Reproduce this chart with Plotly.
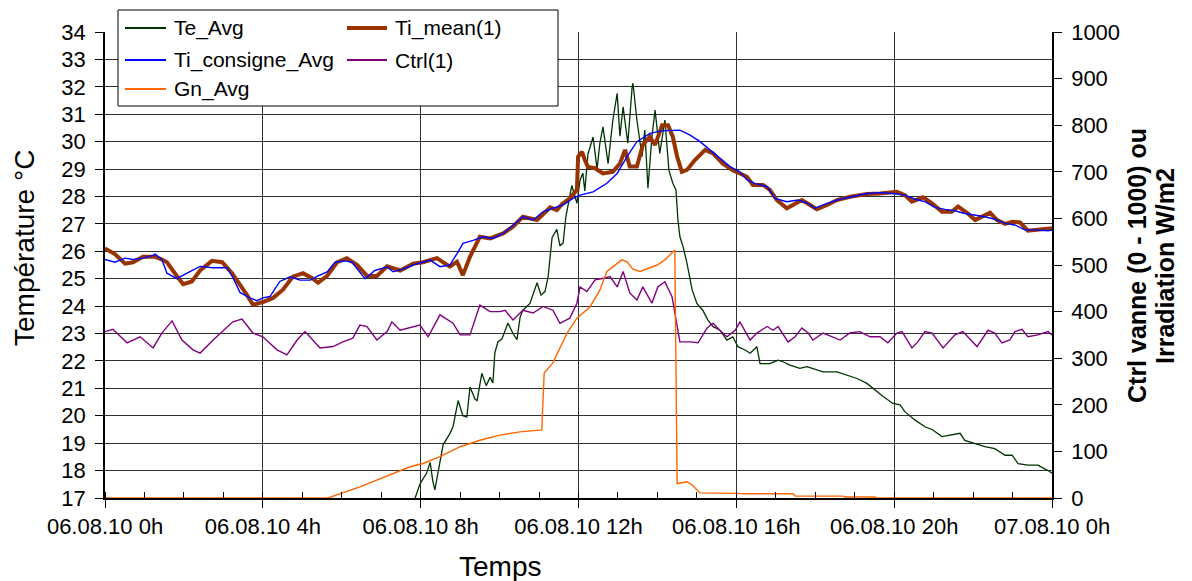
import plotly.graph_objects as go

# ---------------- data ----------------
TICK_HOURS = [0, 4, 8, 12, 16, 20, 24]
TICK_LABELS = ["06.08.10 0h", "06.08.10 4h", "06.08.10 8h", "06.08.10 12h",
               "06.08.10 16h", "06.08.10 20h", "07.08.10 0h"]

# Outdoor temperature (°C)
te_hours = [7.86, 7.98, 8.06, 8.15, 8.24, 8.31, 8.36, 8.44, 8.57, 8.74, 8.82, 8.95, 9.07, 9.17,
            9.25, 9.38, 9.43, 9.55, 9.66, 9.76, 9.83, 9.88, 9.96, 10.06, 10.21, 10.34, 10.44,
            10.52, 10.59, 10.77, 10.95, 11.05, 11.15, 11.23, 11.33, 11.45, 11.53, 11.61, 11.68,
            11.83, 11.96, 12.04, 12.11, 12.16, 12.24, 12.37, 12.47, 12.54, 12.62, 12.75, 12.87,
            12.98, 13.05, 13.13, 13.25, 13.36, 13.38, 13.48, 13.61, 13.68, 13.76, 13.86, 13.94,
            14.06, 14.19, 14.29, 14.39, 14.47, 14.52, 14.57, 14.65, 14.75, 14.88, 15.00, 15.15,
            15.28, 15.41, 15.58, 15.76, 15.91, 16.04, 16.22, 16.35, 16.52, 16.60, 16.85, 17.06,
            17.18, 17.36, 17.61, 17.79, 18.04, 18.20, 18.55, 18.80, 19.06, 19.31, 19.46, 19.72,
            19.97, 20.15, 20.27, 20.53, 20.78, 20.98, 21.21, 21.46, 21.67, 21.79, 22.05, 22.30,
            22.55, 22.81, 22.99, 23.14, 23.39, 23.64, 23.90, 24.00]
te_avg = [17.0, 17.5, 17.7, 17.9, 18.3, 17.6, 17.3, 17.9, 18.95, 19.35, 19.6, 20.55, 20.0, 19.95,
          21.05, 20.6, 20.55, 21.55, 21.1, 21.4, 21.2, 22.3, 22.7, 22.8, 23.38, 23.0, 22.78,
          23.6, 23.85, 24.1, 24.85, 24.4, 24.53, 25.07, 26.5, 26.8, 26.2, 26.3, 27.26,
          28.4, 27.75, 28.6, 28.85, 28.2, 29.55, 30.17, 29.0, 29.93, 30.54, 29.2, 30.78,
          31.76, 30.2, 31.27, 29.94, 32.0, 32.13, 30.79, 29.45, 30.42, 28.3, 30.18, 31.15,
          29.57, 30.79, 28.96, 28.48, 28.24, 27.14, 26.53, 26.17, 25.56, 24.59, 24.1, 23.85,
          23.49, 23.25, 23.13, 22.76, 22.88, 22.52, 22.4, 22.28, 22.52, 21.9, 21.9, 22.03,
          21.97, 21.85, 21.73, 21.79, 21.67, 21.6, 21.6, 21.48, 21.36, 21.18, 21.0, 20.7,
          20.45, 20.4, 20.15, 19.84, 19.6, 19.48, 19.24, 19.3, 19.36, 19.1, 18.99, 18.87,
          18.8, 18.56, 18.56, 18.25, 18.2, 18.2, 18.0, 17.9]

# Indoor mean temperature (°C)
ti_mean_hours = [0, 0.25, 0.51, 0.71, 0.96, 1.27, 1.44, 1.57, 1.82, 1.98, 2.20, 2.41, 2.71, 2.97,
                 3.22, 3.42, 3.60, 3.75, 4.00, 4.26, 4.51, 4.76, 5.02, 5.27, 5.40, 5.63, 5.88,
                 6.13, 6.39, 6.64, 6.89, 7.15, 7.48, 7.81, 8.06, 8.41, 8.74, 8.92, 9.00, 9.07,
                 9.25, 9.50, 9.76, 10.09, 10.34, 10.59, 10.95, 11.28, 11.45, 11.58, 11.78, 11.96,
                 11.99, 12.09, 12.16, 12.24, 12.42, 12.62, 12.87, 13.05, 13.18, 13.30, 13.48,
                 13.63, 13.81, 13.94, 14.12, 14.27, 14.39, 14.50, 14.62, 14.75, 14.95, 15.21,
                 15.41, 15.66, 15.91, 16.17, 16.27, 16.42, 16.68, 16.85, 17.03, 17.28, 17.49,
                 17.66, 17.87, 18.04, 18.30, 18.55, 18.88, 19.31, 19.64, 20.07, 20.27, 20.45,
                 20.73, 20.96, 21.21, 21.46, 21.62, 21.87, 22.05, 22.23, 22.43, 22.61, 22.81,
                 22.99, 23.19, 23.39, 23.64, 23.95, 24.00]
ti_mean = [26.1, 25.9, 25.55, 25.6, 25.8, 25.8, 25.7, 25.6, 25.1, 24.8, 24.9, 25.3, 25.65, 25.6,
           25.2, 24.8, 24.4, 24.05, 24.15, 24.3, 24.6, 25.07, 25.2, 25.0, 24.85, 25.1, 25.6,
           25.75, 25.5, 25.1, 25.1, 25.45, 25.3, 25.55, 25.6, 25.75, 25.44, 25.62, 25.32, 25.13,
           25.8, 26.53, 26.47, 26.65, 26.9, 27.26, 27.14, 27.6, 27.5, 27.72, 27.93, 28.24,
           29.45, 29.63, 29.33, 29.08, 29.03, 28.84, 28.9, 29.2, 29.7, 29.09, 29.09,
           29.88, 30.18, 29.88, 30.6, 30.6, 30.18, 29.45, 28.9, 28.97, 29.33, 29.7,
           29.57, 29.2, 28.96, 28.8, 28.72, 28.42, 28.42, 28.24, 27.87, 27.57, 27.75,
           27.87, 27.69, 27.53, 27.69, 27.87, 27.99, 28.09, 28.11, 28.17, 28.05, 27.81,
           27.97, 27.75, 27.44, 27.44, 27.63, 27.38, 27.14, 27.26, 27.41, 27.14, 27.0,
           27.08, 27.05, 26.75, 26.8, 26.84, 26.84]

# Indoor set-point temperature (°C)
ti_cons_hours = [0, 0.25, 0.51, 0.71, 0.96, 1.22, 1.27, 1.44, 1.57, 1.82, 2.08, 2.41, 2.74, 3.09,
                 3.24, 3.42, 3.67, 3.85, 4.00, 4.18, 4.43, 4.69, 4.94, 5.20, 5.40, 5.63, 5.83,
                 6.08, 6.26, 6.39, 6.59, 6.84, 7.15, 7.30, 7.55, 7.81, 8.06, 8.24, 8.49, 8.74,
                 8.95, 9.07, 9.33, 9.58, 9.83, 10.09, 10.34, 10.59, 10.85, 11.10, 11.35, 11.61,
                 11.86, 12.04, 12.37, 12.72, 12.98, 13.23, 13.48, 13.81, 14.14, 14.57, 14.83,
                 15.08, 15.33, 15.58, 15.84, 16.09, 16.27, 16.47, 16.78, 16.98, 17.28, 17.56,
                 17.79, 17.99, 18.30, 18.63, 18.96, 19.31, 19.64, 19.97, 20.27, 20.53, 20.78,
                 21.03, 21.29, 21.54, 21.79, 22.05, 22.30, 22.55, 22.81, 23.06, 23.31, 23.57,
                 23.90, 24.00]
ti_consigne = [25.7, 25.6, 25.75, 25.7, 25.75, 25.85, 25.9, 25.7, 25.2, 25.0, 25.2, 25.45, 25.4,
               25.4, 25.05, 24.5, 24.3, 24.2, 24.3, 24.35, 24.9, 25.07, 24.95, 24.95, 25.1,
               25.25, 25.6, 25.65, 25.6, 25.35, 25.0, 25.3, 25.43, 25.25, 25.35, 25.5, 25.6,
               25.68, 25.44, 25.5, 25.98, 26.29, 26.4, 26.53, 26.47, 26.65, 26.95, 27.26,
               27.14, 27.44, 27.57, 27.69, 27.93, 28.05, 28.17, 28.48, 28.84, 29.45, 30.0,
               30.3, 30.4, 30.42, 30.24, 30.0, 29.7, 29.39, 29.09, 28.9, 28.6, 28.48, 28.36,
               27.93, 27.81, 27.87, 27.77, 27.57, 27.75, 27.9, 27.99, 28.11, 28.14, 28.11,
               28.05, 27.9, 27.81, 27.6, 27.53, 27.48, 27.38, 27.32, 27.26, 27.17, 27.02,
               26.96, 26.78, 26.78, 26.75, 26.78]

# Valve control signal (0 - 1000)
ctrl_hours = [0, 0.20, 0.56, 0.89, 1.22, 1.44, 1.70, 1.95, 2.23, 2.41, 2.74, 3.24, 3.47, 3.75,
              4.00, 4.36, 4.61, 4.87, 5.07, 5.27, 5.45, 5.78, 6.03, 6.28, 6.46, 6.64, 6.89,
              7.15, 7.27, 7.48, 7.98, 8.19, 8.49, 8.82, 9.00, 9.25, 9.50, 9.76, 10.01, 10.14,
              10.34, 10.59, 10.85, 11.10, 11.35, 11.53, 11.78, 11.96, 12.04, 12.21, 12.42,
              12.67, 12.80, 12.98, 13.13, 13.30, 13.48, 13.63, 13.86, 14.01, 14.19, 14.37,
              14.50, 14.57, 14.83, 15.03, 15.26, 15.41, 15.58, 15.76, 15.97, 16.09, 16.35,
              16.52, 16.78, 16.93, 17.06, 17.16, 17.31, 17.49, 17.66, 17.82, 17.94, 18.20,
              18.45, 18.63, 18.88, 19.13, 19.39, 19.64, 19.84, 20.07, 20.20, 20.45, 20.60,
              20.78, 20.96, 21.24, 21.54, 21.74, 22.10, 22.38, 22.55, 22.73, 22.93, 23.06,
              23.24, 23.39, 23.64, 23.90, 24.00]
ctrl = [357, 362, 333, 346, 322, 354, 380, 339, 318, 311, 339, 378, 384, 354,
        346, 318, 307, 339, 357, 339, 322, 325, 335, 343, 371, 368, 339,
        357, 378, 360, 371, 346, 393, 375, 350, 350, 414, 400, 400, 403,
        382, 403, 397, 411, 403, 375, 386, 418, 453, 443, 468,
        472, 475, 453, 486, 440, 425, 453, 418, 453, 464, 432,
        371, 335, 335, 333, 365, 375, 360, 346, 360, 378, 339,
        354, 368, 360, 368, 354, 335, 346, 365, 354, 339, 354,
        346, 339, 354, 357, 346, 346, 333, 354, 357, 322, 335,
        357, 354, 322, 350, 357, 325, 360, 354, 333, 339, 357,
        362, 346, 350, 357, 350]

# Solar irradiation (W/m2)
gn_hours = [0, 5.65, 6.46, 6.89, 7.30, 7.73, 8.06, 8.49, 9.00, 9.50, 10.01, 10.52, 11.07, 11.13,
            11.35, 11.71, 11.96, 12.29, 12.54, 12.72, 12.87, 13.10, 13.23, 13.38, 13.56, 13.76,
            13.99, 14.19, 14.44, 14.50, 14.75, 14.88, 15.08, 15.97, 16.22, 17.44, 17.49, 18.70,
            18.75, 19.51, 19.56, 24.00]
gn_avg = [0, 0, 24, 39, 53, 67, 74, 89, 110, 124, 135, 142, 146, 268,
          290, 354, 386, 410, 446, 486, 496, 511, 507, 491, 486, 493,
          500, 511, 532, 31, 35, 28, 11, 10, 9, 9, 4, 4,
          2, 2, 0, 0]

SERIES_COLORS = {"Te_Avg": "#003300", "Ti_mean(1)": "#993300", "Ti_consigne_Avg": "#0000FF",
                 "Ctrl(1)": "#800080", "Gn_Avg": "#FF6600"}
SERIES_WIDTHS = {"Te_Avg": 1.3, "Ti_mean(1)": 4, "Ti_consigne_Avg": 1.4,
                 "Ctrl(1)": 1.4, "Gn_Avg": 1.4}

# ---------------- figure ----------------
W, H = 1192, 581
L, R, T, B = 105, 140, 32, 83
PW, PH = W - L - R, H - T - B


def px_x(px):
    return (px - L) / PW


def px_y(py):
    return (H - B - py) / PH


fig = go.Figure()


def add_line(name, x, y, axis):
    fig.add_trace(go.Scatter(
        x=x, y=y, name=name, mode="lines", yaxis=axis, showlegend=False,
        line=dict(color=SERIES_COLORS[name], width=SERIES_WIDTHS[name]),
    ))


add_line("Te_Avg", te_hours, te_avg, "y")
add_line("Ti_mean(1)", ti_mean_hours, ti_mean, "y")
add_line("Ti_consigne_Avg", ti_cons_hours, ti_consigne, "y")
add_line("Ctrl(1)", ctrl_hours, ctrl, "y2")
add_line("Gn_Avg", gn_hours, gn_avg, "y2")

FONT = "Liberation Sans, Arial, sans-serif"
GRID = "#303030"

fig.update_layout(
    width=W, height=H,
    margin=dict(l=L, r=R, t=T, b=B),
    paper_bgcolor="white", plot_bgcolor="white",
    font=dict(family=FONT, color="black", size=22),
    xaxis=dict(
        range=[0, 24], tickmode="array", tickvals=TICK_HOURS, ticktext=TICK_LABELS,
        ticks="outside", ticklen=8, tickcolor="black", tickwidth=1,
        showgrid=True, gridcolor=GRID, gridwidth=1,
        showline=True, linecolor="black", linewidth=1.5,
        zeroline=False, tickfont=dict(size=22),
        minor=dict(dtick=1, tick0=0, ticks="inside", ticklen=6, tickcolor="black",
                   showgrid=False),
    ),
    yaxis=dict(
        range=[17, 34], dtick=1, tick0=17,
        ticks="outside", ticklen=8, tickcolor="black",
        showgrid=True, gridcolor=GRID, gridwidth=1,
        showline=True, linecolor="black", linewidth=1.5,
        zeroline=False, tickfont=dict(size=22), ticklabelstandoff=5,
    ),
    yaxis2=dict(
        range=[0, 1000], dtick=100, tick0=0, overlaying="y", side="right",
        ticks="outside", ticklen=8, tickcolor="black",
        showgrid=False, showline=True, linecolor="black", linewidth=1.5,
        zeroline=False, tickfont=dict(size=22), ticklabelstandoff=5,
    ),
)

# axis titles
fig.add_annotation(text="Température °C", textangle=-90, x=px_x(24), y=px_y(248),
                   xref="paper", yref="paper", showarrow=False,
                   xanchor="center", yanchor="middle", font=dict(size=28))
fig.add_annotation(text="Temps", x=px_x(500), y=px_y(566), xref="paper", yref="paper",
                   showarrow=False, xanchor="center", yanchor="middle", font=dict(size=28))
for line_text, xc in (("Ctrl vanne (0 - 1000) ou", 1137), ("Irradiation W/m2", 1165)):
    fig.add_annotation(text="<b>" + line_text + "</b>", textangle=-90,
                       x=px_x(xc), y=px_y(266), xref="paper", yref="paper", showarrow=False,
                       xanchor="center", yanchor="middle", font=dict(size=25))

# legend box drawn over the plot
fig.add_shape(type="rect", xref="paper", yref="paper",
              x0=px_x(118), x1=px_x(558), y0=px_y(106), y1=px_y(10),
              fillcolor="white", line=dict(color="black", width=1), layer="above")

LEGEND_ITEMS = [("Te_Avg", 0, 0), ("Ti_mean(1)", 1, 0), ("Ti_consigne_Avg", 0, 1),
                ("Ctrl(1)", 1, 1), ("Gn_Avg", 0, 2)]
COL_X = [(125, 166, 172), (347, 387, 393)]
ROW_Y = [28, 60, 89]
for name, col, row in LEGEND_ITEMS:
    x0, x1, xt = COL_X[col]
    yy = ROW_Y[row]
    fig.add_shape(type="line", xref="paper", yref="paper",
                  x0=px_x(x0), x1=px_x(x1), y0=px_y(yy), y1=px_y(yy),
                  line=dict(color=SERIES_COLORS[name],
                            width=4 if name == "Ti_mean(1)" else 2),
                  layer="above")
    fig.add_annotation(text=name, x=px_x(xt), y=px_y(yy), xref="paper", yref="paper",
                       showarrow=False, xanchor="left", yanchor="middle",
                       font=dict(size=21))

fig.write_html("out.html")
